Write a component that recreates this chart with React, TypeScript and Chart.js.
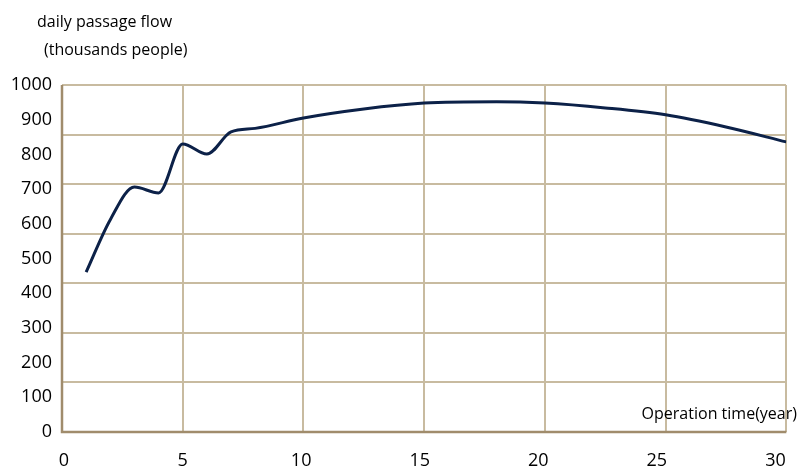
import React, { useEffect, useRef } from "react";
import { Chart, registerables } from "chart.js";

Chart.register(...registerables);

// data
const years = [1, 2, 3, 4, 5, 6, 7, 8, 10, 12.5, 15, 18, 20, 22.5, 25, 27.5, 30];
const flow = [461, 612, 706, 689, 830, 801, 865, 875, 905, 931, 948, 952, 948, 934, 914, 879, 836];

// tick labels
const xTickLabels = [0, 5, 10, 15, 20, 25, 30];
const yTickLabels = [0, 100, 200, 300, 400, 500, 600, 700, 800, 900, 1000];

// grid lines (the source grid does not align with its labels)
const xGridLines = [0, 5, 10, 15, 20, 25, 30];
const yGridLines = [0, 142.86, 285.71, 428.57, 571.43, 714.29, 857.14, 1000];

const titleLine1 = "daily passage flow";
const titleLine2 = "(thousands people)";
const xTitle = "Operation time(year)";

const GRID = "rgb(200,187,160)";
const AXIS = "rgb(160,140,108)";
const FONT = '"Open Sans", "DejaVu Sans", sans-serif';

export default function App() {
  const ref = useRef<HTMLCanvasElement | null>(null);

  useEffect(() => {
    if (!ref.current) return;
    const textPlugin = {
      id: "texts",
      afterDraw(chart: any) {
        const ctx = chart.ctx;
        ctx.save();
        ctx.fillStyle = "#000";
        ctx.font = `500 16px ${FONT}`;
        ctx.textBaseline = "middle";
        ctx.textAlign = "left";
        ctx.fillText(titleLine1, 37, 22);
        ctx.fillText(titleLine2, 44, 50);
        ctx.textAlign = "right";
        ctx.fillText(xTitle, 797, 414);
        ctx.restore();
      },
    };

    const chart = new Chart(ref.current, {
      type: "line",
      data: {
        datasets: [
          {
            data: years.map((x, i) => ({ x, y: flow[i] })),
            borderColor: "#0c2148",
            borderWidth: 3,
            pointRadius: 0,
            cubicInterpolationMode: "monotone",
            fill: false,
            xAxisID: "x",
            yAxisID: "y",
          },
        ],
      },
      options: {
        animation: false,
        responsive: false,
        layout: { padding: { top: 85, right: 7, left: 0, bottom: 0 } },
        plugins: { legend: { display: false }, tooltip: { enabled: false } },
        scales: {
          x: {
            type: "linear",
            position: "bottom",
            min: 0,
            max: 30,
            afterBuildTicks: (s: any) => {
              s.ticks = xGridLines.map((v) => ({ value: v }));
            },
            afterFit: (s: any) => {
              s.height = 0;
            },
            ticks: { display: false },
            grid: { color: GRID, lineWidth: 2, drawTicks: false },
            border: { display: false },
          },
          xl: {
            type: "linear",
            position: "bottom",
            min: -0.083,
            max: 30.46,
            afterBuildTicks: (s: any) => {
              s.ticks = xTickLabels.map((v) => ({ value: v }));
            },
            afterFit: (s: any) => {
              s.height = 36;
            },
            ticks: {
              color: "#000",
              font: { family: FONT, size: 18, weight: "500" },
              padding: 18,
              maxRotation: 0,
              autoSkip: false,
              callback: (v: any) => String(v),
            },
            grid: { display: false, drawTicks: false },
            border: { display: false },
          },
          y: {
            type: "linear",
            position: "right",
            min: 0,
            max: 1000,
            afterBuildTicks: (s: any) => {
              s.ticks = yGridLines.map((v) => ({ value: v }));
            },
            afterFit: (s: any) => {
              s.width = 0;
            },
            ticks: { display: false },
            grid: { color: GRID, lineWidth: 2, drawTicks: false },
            border: { display: false },
          },
          yl: {
            type: "linear",
            position: "left",
            min: 0,
            max: 1000,
            afterBuildTicks: (s: any) => {
              s.ticks = yTickLabels.map((v) => ({ value: v }));
            },
            afterFit: (s: any) => {
              s.width = 62;
            },
            ticks: {
              color: "#000",
              font: { family: FONT, size: 18, weight: "500" },
              padding: 10,
              autoSkip: false,
              callback: (v: any) => String(v),
            },
            grid: { display: false, drawTicks: false },
            border: { display: false },
          },
        },
      },
      plugins: [
        textPlugin,
        {
          id: "axes",
          afterDatasetsDraw(chart: any) {
            const { ctx, chartArea: a } = chart;
            ctx.save();
            ctx.strokeStyle = AXIS;
            ctx.lineWidth = 2.5;
            ctx.beginPath();
            ctx.moveTo(a.left, a.top);
            ctx.lineTo(a.left, a.bottom);
            ctx.lineTo(a.right, a.bottom);
            ctx.stroke();
            ctx.restore();
          },
        },
      ],
    } as any);
    return () => chart.destroy();
  }, []);

  return (
    <div style={{ position: "fixed", left: 0, top: 0, width: 804, height: 468, background: "#fff" }}>
      <canvas ref={ref} width={804} height={468} style={{ width: 804, height: 468, display: "block" }} />
    </div>
  );
}
